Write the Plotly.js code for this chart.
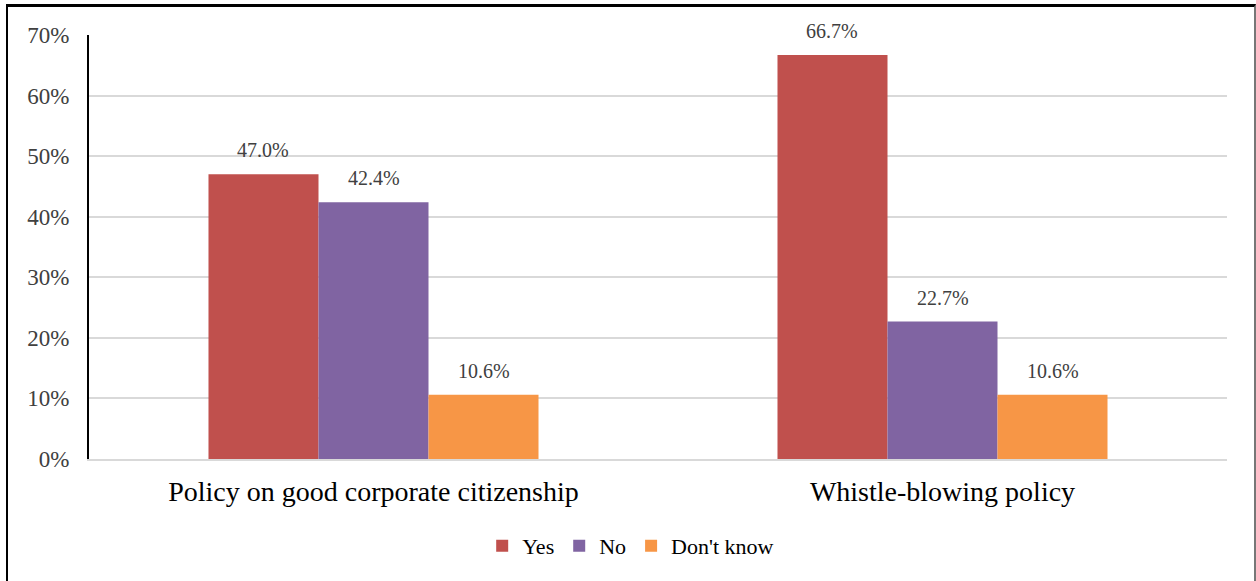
<!DOCTYPE html>
<html><head><meta charset="utf-8">
<script src="https://cdn.plot.ly/plotly-3.0.1.min.js"></script>
<style>
html,body{margin:0;padding:0;background:#fff;}
#wrap{position:relative;width:1256px;height:581px;overflow:hidden;}
#chart{position:absolute;left:0;top:0;width:1256px;height:581px;}
#frame{position:absolute;left:6px;top:4px;width:1246px;height:590px;border-left:2px solid #000;border-top:3px solid #000;border-right:2px solid #777;pointer-events:none;}
</style></head>
<body><div id="wrap"><div id="chart"></div><div id="frame"></div></div>
<script>
const categories = ["Policy on good corporate citizenship", "Whistle-blowing policy"];
const yesValues = [47.0, 66.7];
const noValues = [42.4, 22.7];
const dontKnowValues = [10.6, 10.6];
const seriesNames = ["Yes", "No", "Don't know"];
const colors = ["#C0504D", "#8064A2", "#F79646"];
const tickVals = [0,10,20,30,40,50,60,70];
const tickText = tickVals.map(v => v + "%");

const font = "'Liberation Serif', 'Times New Roman', serif";
const allSeries = [yesValues, noValues, dontKnowValues];
const bargap = 0.42;
const nSeries = allSeries.length;
const barW = (1 - bargap) / nSeries;

const traces = allSeries.map((vals, i) => ({
  type: "bar",
  name: seriesNames[i],
  x: categories,
  y: vals,
  marker: {color: colors[i]},
  hoverinfo: "none"
}));

const annotations = [];
allSeries.forEach((vals, i) => {
  vals.forEach((v, c) => {
    annotations.push({
      xref: "x", yref: "y",
      x: c + (i - (nSeries - 1) / 2) * barW,
      y: v,
      text: v.toFixed(1) + "%",
      showarrow: false,
      xanchor: "center", yanchor: "bottom",
      yshift: 11,
      font: {family: font, size: 20, color: "#404040"}
    });
  });
});

const layout = {
  width: 1256, height: 581,
  margin: {l: 89, r: 29, t: 35, b: 122},
  paper_bgcolor: "#fff", plot_bgcolor: "#fff",
  barmode: "group",
  bargap: bargap,
  bargroupgap: 0,
  font: {family: font, color: "#404040"},
  annotations: annotations,
  xaxis: {
    showline: true, linecolor: "#d9d9d9", linewidth: 2,
    tickfont: {family: font, size: 28, color: "#000"},
    ticks: "", showgrid: false, ticklabelstandoff: 6
  },
  yaxis: {
    range: [0, 70], tickvals: tickVals, ticktext: tickText,
    tickfont: {family: font, size: 23, color: "#404040"},
    showgrid: true, gridcolor: "#d9d9d9", gridwidth: 2,
    showline: true, linecolor: "#000", linewidth: 2,
    zeroline: false, ticks: "", ticklabelstandoff: 13
  },
  legend: {
    orientation: "h", x: 0.476, xanchor: "center", y: -0.205, yanchor: "middle",
    font: {family: font, size: 22, color: "#000"},
    traceorder: "normal", itemwidth: 30
  },
  showlegend: true
};
Plotly.newPlot("chart", traces, layout, {staticPlot: true});
</script></body></html>
